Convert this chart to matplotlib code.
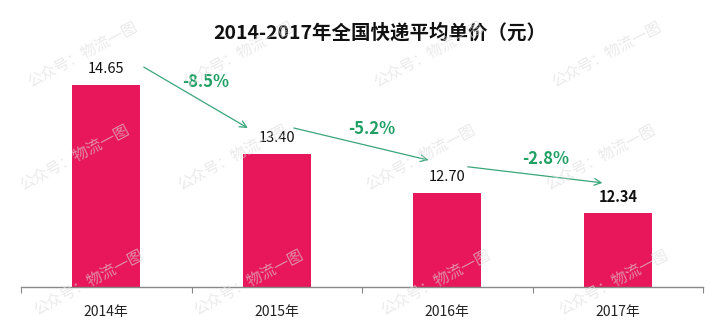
import matplotlib
matplotlib.use("Agg")
from matplotlib import pyplot as plt

plt.rcParams["font.family"] = ["Noto Sans CJK SC", "DejaVu Sans"]

years = ["2014年", "2015年", "2016年", "2017年"]
prices = [14.65, 13.40, 12.70, 12.34]
price_labels = ["14.65", "13.40", "12.70", "12.34"]
changes = ["-8.5%", "-5.2%", "-2.8%"]
title = "2014-2017年全国快递平均单价（元）"
watermark = "公众号：物流一图"

barColor = "#E8175B"
green = "#21A065"
arrowGreen = "#3AA57A"

fig = plt.figure(figsize=(7.17, 3.34), dpi=100)
ax = fig.add_axes([21 / 717, 47 / 334, 682 / 717, 240 / 334])

x = list(range(len(years)))
ax.bar(x, prices, width=0.4, color=barColor, zorder=2)
ax.set_xlim(-0.5, len(years) - 0.5)
ax.set_ylim(11, 11 + 240 / 55.4)

# category axis like excel: ticks between categories
ax.set_xticks([i - 0.5 for i in range(len(years) + 1)])
ax.set_xticklabels([])
ax.set_xticks(x, minor=True)
ax.set_xticklabels(years, minor=True, fontsize=10, color="#222222")
ax.tick_params(axis="x", which="major", length=4, color="#888888", direction="out")
ax.tick_params(axis="x", which="minor", length=0, pad=13)
ax.set_yticks([])
for s in ["top", "right", "left"]:
    ax.spines[s].set_visible(False)
ax.spines["bottom"].set_color("#888888")
ax.spines["bottom"].set_linewidth(1)

for i, (v, lab) in enumerate(zip(prices, price_labels)):
    last = i == len(prices) - 1
    ax.text(i, v + 0.29, lab, ha="center", va="center", fontsize=10.5,
            fontweight="bold" if last else "normal", color="#111111", zorder=4)

# green arrows between bars
startDx = [0.22, 0.10, 0.12]
startDy = [0.32, 0.47, 0.47]
endDx = [-0.17, -0.11, -0.09]
endDy = [0.47, 0.59, 0.54]
for i, ch in enumerate(changes):
    x0, y0 = i + startDx[i], prices[i] + startDy[i]
    x1, y1 = i + 1 + endDx[i], prices[i + 1] + endDy[i]
    ax.annotate("", xy=(x1, y1), xytext=(x0, y0),
                arrowprops=dict(arrowstyle="->", color=arrowGreen, lw=0.9,
                                mutation_scale=12, shrinkA=0, shrinkB=0),
                zorder=4)
    ax.text((x0 + x1) / 2 + 0.06, (y0 + y1) / 2 + 0.28, ch, ha="center", va="center",
            fontsize=12, fontweight="bold", color=green, zorder=4)

fig.text(380 / 717, 1 - 33 / 334, title, ha="center", va="center",
         fontsize=14, fontweight="bold", color="#111111")

# watermark grid
wmX = [[82, 238, 428, 606], [74, 232, 420, 600], [88, 248, 435, 613]]
wmY = [54, 157, 282]
for row, yy in zip(wmX, wmY):
    for xx in row:
        fig.text(xx / 717, 1 - yy / 334, watermark, ha="center", va="center",
                 rotation=28, fontsize=11, color="#dcdcdc", alpha=0.6, zorder=10)

plt.savefig("out.png", dpi=100)
